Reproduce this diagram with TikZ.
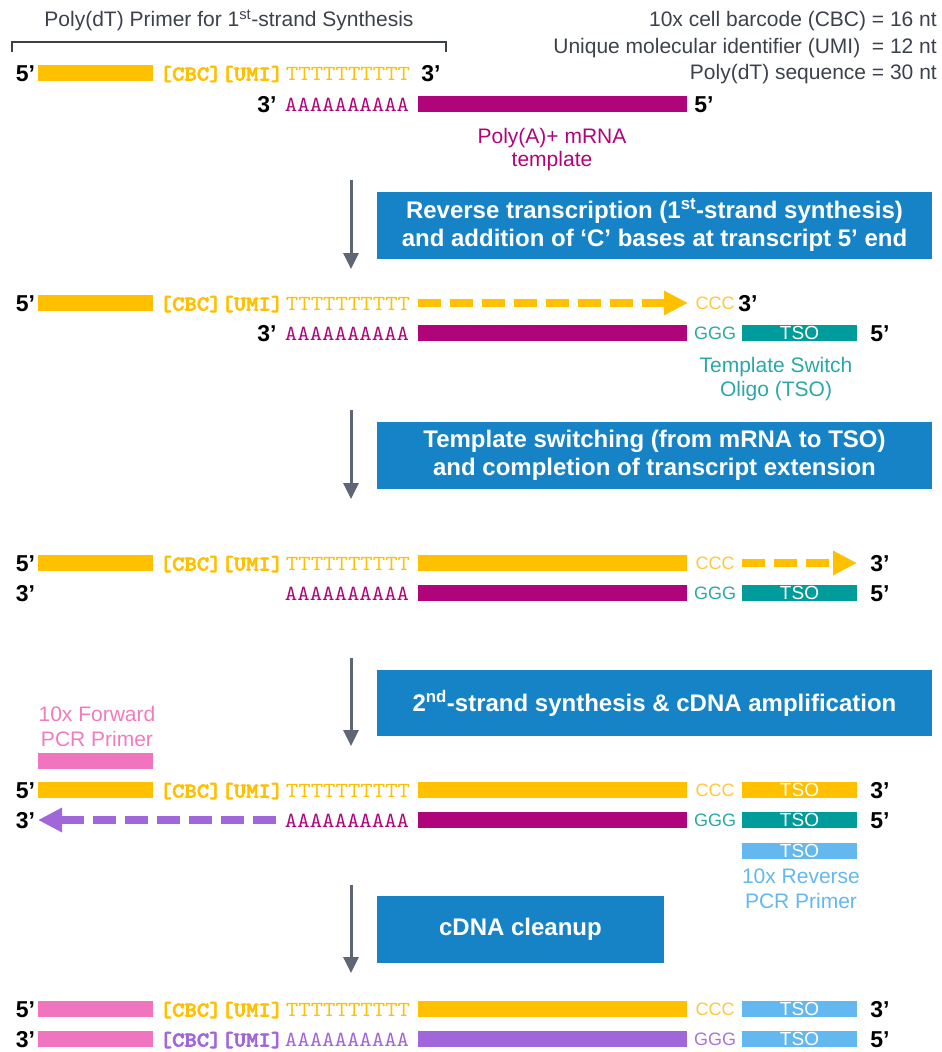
\documentclass[tikz,border=0pt]{standalone}
\usepackage{fontspec}
\setmainfont{Liberation Sans}
\newfontfamily\courr[FakeStretch=1.1]{lmmono10-regular.otf}
\newfontfamily\courb[FakeStretch=1.12,FakeBold=2.8]{lmmonolt10-bold.otf}
\usetikzlibrary{arrows.meta}
\definecolor{cyel}{HTML}{FFC000}
\definecolor{cyell}{HTML}{FFC83A}
\definecolor{cmag}{HTML}{B0057A}
\definecolor{cteal}{HTML}{009B9B}
\definecolor{ctealt}{HTML}{2AA8A8}
\definecolor{cblue}{HTML}{1683C6}
\definecolor{cpink}{HTML}{F075BE}
\definecolor{cpinkt}{HTML}{F07CC0}
\definecolor{clblue}{HTML}{63B8EF}
\definecolor{cpur}{HTML}{A066DA}
\definecolor{cpurt}{HTML}{A873DD}
\definecolor{cgray}{HTML}{3C414C}
\definecolor{carrow}{HTML}{5E6575}
\newcommand\pr[4]{\node[primes] (#1) at (#2,{#3+8.5}) {#4};}
\newcommand\mybar[6]{\node[barn, fill=#5, minimum width={#3-#2}] (#1) at ({(#2+#3)/2},#4) {#6};}
\begin{document}
\begin{tikzpicture}[x=1pt,y=-1pt,
  primes/.style={font=\fontsize{23}{23}\selectfont\bfseries, anchor=base, inner sep=0},
  barn/.style={rectangle, inner sep=0, minimum height=16, font=\fontsize{19}{19}\selectfont, text=white},
  monob/.style={font=\courb\fontsize{21}{21}\selectfont, anchor=base, inner sep=0},
  mono/.style={font=\courr\fontsize{21.5}{21.5}\selectfont, anchor=base, inner sep=0},
  lbl/.style={font=\fontsize{21}{21}\selectfont, anchor=base, inner sep=0},
  small/.style={font=\fontsize{18}{18}\selectfont, anchor=base, inner sep=0},
  bluebox/.style={rectangle, fill=cblue, inner sep=0, text=white, font=\fontsize{24}{28}\selectfont\bfseries, align=center},
  stagearrow/.style={draw=carrow, line width=3pt, -{Triangle[length=16pt,width=15pt]}},
  dashy/.style={line width=8pt, dash pattern=on 23pt off 9pt, -{Triangle[length=24pt,width=23pt]}},
]
\useasboundingbox (0,0) rectangle (942,1052);
% ---------- header ----------
\node[lbl, text=cgray] (title) at (229,27) {Poly(dT) Primer for 1\textsuperscript{st}-strand Synthesis};
\coordinate (brA) at (12,52);
\coordinate (brB) at (12,42);
\coordinate (brC) at (446,42);
\coordinate (brD) at (446,52);
\draw[cgray, line width=2pt] (brA) -- (brB) -- (brC) -- (brD);
\node[lbl, text=cgray, anchor=base east] (info1) at (937,27) {10x cell barcode (CBC) = 16 nt};
\node[lbl, text=cgray, anchor=base east] (info2) at (937,53) {Unique molecular identifier (UMI)\ \ = 12 nt};
\node[lbl, text=cgray, anchor=base east] (info3) at (937,79) {Poly(dT) sequence = 30 nt};
% ---------- row 1 / 2 ----------
\pr{p1a}{25.5}{73}{5’}
\mybar{b1a}{38}{153}{73}{cyel}{}
\node[monob, text=cyel] (cu1) at (221.5,80.5) {[CBC][UMI]};
\node[mono, text=cyel] (t1) at (348,80.5) {TTTTTTTTTT};
\pr{p1b}{431}{73}{3’}
\pr{p2a}{267}{104}{3’}
\node[mono, text=cmag] (a2) at (347,111.5) {AAAAAAAAAA};
\mybar{b2}{418}{687}{104}{cmag}{}
\pr{p2b}{704}{104}{5’}
\node[lbl, text=cmag] (l2a) at (552,143) {Poly(A)+ mRNA};
\node[lbl, text=cmag] (l2b) at (552,166) {template};
% ---------- step 1 ----------
\coordinate (s1) at (351,180);
\coordinate (e1) at (351,269);
\draw[stagearrow] (s1) -- (e1);
\node[bluebox, minimum width=555, minimum height=67] (box1) at (654.5,225) {Reverse transcription (1\textsuperscript{st}-strand synthesis)\\and addition of ‘C’ bases at transcript 5’ end};
% ---------- row 3 / 4 ----------
\pr{p3a}{25.5}{303}{5’}
\mybar{b3a}{38}{153}{303}{cyel}{}
\node[monob, text=cyel] (cu3) at (221.5,310.5) {[CBC][UMI]};
\node[mono, text=cyel] (t3) at (348,310.5) {TTTTTTTTTT};
\coordinate (d3s) at (418,303);
\coordinate (d3e) at (688,303);
\draw[dashy, cyel] (d3s) -- (d3e);
\node[small, text=cyell] (c3) at (715,309.5) {CCC};
\pr{p3b}{748}{303}{3’}
\pr{p4a}{267}{333}{3’}
\node[mono, text=cmag] (a4) at (347,340.5) {AAAAAAAAAA};
\mybar{b4}{418}{687}{333}{cmag}{}
\node[small, text=ctealt] (g4) at (715,339.5) {GGG};
\mybar{tso4}{742}{857}{333}{cteal}{TSO}
\pr{p4b}{880}{333}{5’}
\node[lbl, text=ctealt] (l4a) at (776,372) {Template Switch};
\node[lbl, text=ctealt] (l4b) at (776,396) {Oligo (TSO)};
% ---------- step 2 ----------
\coordinate (s2) at (351,410);
\coordinate (e2) at (351,499);
\draw[stagearrow] (s2) -- (e2);
\node[bluebox, minimum width=555, minimum height=67] (box2) at (654.5,455.5) {Template switching (from mRNA to TSO)\\and completion of transcript extension};
% ---------- row 5 / 6 ----------
\pr{p5a}{25.5}{563}{5’}
\mybar{b5a}{38}{153}{563}{cyel}{}
\node[monob, text=cyel] (cu5) at (221.5,570.5) {[CBC][UMI]};
\node[mono, text=cyel] (t5) at (348,570.5) {TTTTTTTTTT};
\mybar{b5b}{418}{687}{563}{cyel}{}
\node[small, text=cyell] (c5) at (715,569.5) {CCC};
\coordinate (d5s) at (742,563);
\coordinate (d5e) at (857,563);
\draw[dashy, cyel] (d5s) -- (d5e);
\pr{p5b}{880}{563}{3’}
\pr{p6a}{25.5}{593}{3’}
\node[mono, text=cmag] (a6) at (347,600.5) {AAAAAAAAAA};
\mybar{b6}{418}{687}{593}{cmag}{}
\node[small, text=ctealt] (g6) at (715,599.5) {GGG};
\mybar{tso6}{742}{857}{593}{cteal}{TSO}
\pr{p6b}{880}{593}{5’}
% ---------- step 3 ----------
\coordinate (s3) at (351,658);
\coordinate (e3) at (351,746);
\draw[stagearrow] (s3) -- (e3);
\node[bluebox, minimum width=555, minimum height=66] (box3) at (654.5,703) {2\textsuperscript{nd}-strand synthesis \& cDNA amplification};
\node[lbl, text=cpinkt] (l7a) at (97,721) {10x Forward};
\node[lbl, text=cpinkt] (l7b) at (97,746) {PCR Primer};
\mybar{fwd}{38}{153}{761}{cpink}{}
% ---------- row 7 / 8 ----------
\pr{p7a}{25.5}{790}{5’}
\mybar{b7a}{38}{153}{790}{cyel}{}
\node[monob, text=cyel] (cu7) at (221.5,797.5) {[CBC][UMI]};
\node[mono, text=cyel] (t7) at (348,797.5) {TTTTTTTTTT};
\mybar{b7b}{418}{687}{790}{cyel}{}
\node[small, text=cyell] (c7) at (715,796.5) {CCC};
\mybar{tso7}{742}{857}{790}{cyel}{TSO}
\pr{p7b}{880}{790}{3’}
\pr{p8a}{25.5}{820}{3’}
\coordinate (d8s) at (276,820);
\coordinate (d8e) at (38,820);
\draw[dashy, cpur] (d8s) -- (d8e);
\node[mono, text=cmag] (a8) at (347,827.5) {AAAAAAAAAA};
\mybar{b8}{418}{687}{820}{cmag}{}
\node[small, text=ctealt] (g8) at (715,826.5) {GGG};
\mybar{tso8}{742}{857}{820}{cteal}{TSO}
\pr{p8b}{880}{820}{5’}
\mybar{rev}{742}{857}{851}{clblue}{TSO}
\node[lbl, text=clblue] (l8a) at (801,883) {10x Reverse};
\node[lbl, text=clblue] (l8b) at (801,908) {PCR Primer};
% ---------- step 4 ----------
\coordinate (s4) at (351,885);
\coordinate (e4) at (351,973);
\draw[stagearrow] (s4) -- (e4);
\node[bluebox, minimum width=287, minimum height=67] (box4) at (520.5,929.5) {cDNA cleanup};
% ---------- row 9 / 10 ----------
\pr{p9a}{25.5}{1009}{5’}
\mybar{b9a}{38}{153}{1009}{cpink}{}
\node[monob, text=cyel] (cu9) at (221.5,1016.5) {[CBC][UMI]};
\node[mono, text=cyel] (t9) at (348,1016.5) {TTTTTTTTTT};
\mybar{b9b}{418}{687}{1009}{cyel}{}
\node[small, text=cyell] (c9) at (715,1015.5) {CCC};
\mybar{tso9}{742}{857}{1009}{clblue}{TSO}
\pr{p9b}{880}{1009}{3’}
\pr{p10a}{25.5}{1039}{3’}
\mybar{b10a}{38}{153}{1039}{cpink}{}
\node[monob, text=cpur] (cu10) at (221.5,1046.5) {[CBC][UMI]};
\node[mono, text=cpur] (a10) at (347,1046.5) {AAAAAAAAAA};
\mybar{b10b}{418}{687}{1039}{cpur}{}
\node[small, text=cpurt] (g10) at (715,1045.5) {GGG};
\mybar{tso10}{742}{857}{1039}{clblue}{TSO}
\pr{p10b}{880}{1039}{5’}
\end{tikzpicture}
\end{document}
